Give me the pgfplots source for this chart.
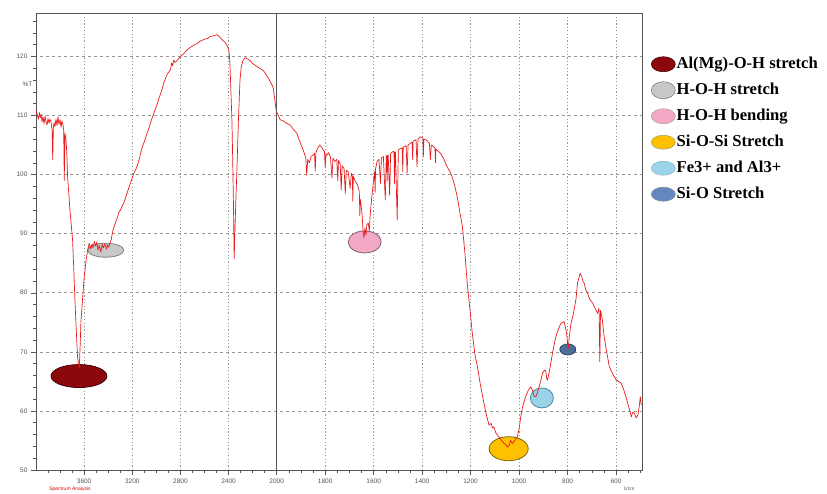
\documentclass[border=0pt]{standalone}
\usepackage{pgfplots}
\pgfplotsset{compat=1.18}
\usepackage{fontspec}
\setmainfont{Liberation Serif}
\newfontfamily\tickfont{Liberation Sans}
\definecolor{curve}{RGB}{232,28,28}
\definecolor{frame}{RGB}{85,85,85}
\definecolor{gridc}{RGB}{150,150,150}
\definecolor{almg}{RGB}{140,8,12}
\definecolor{almgE}{RGB}{70,0,0}
\definecolor{grayF}{RGB}{200,200,200}
\definecolor{grayE}{RGB}{125,125,125}
\definecolor{pinkF}{RGB}{243,168,198}
\definecolor{pinkE}{RGB}{130,95,110}
\definecolor{yelF}{RGB}{255,192,0}
\definecolor{yelE}{RGB}{120,105,10}
\definecolor{lbF}{RGB}{155,212,232}
\definecolor{lbE}{RGB}{70,135,165}
\definecolor{sbF}{RGB}{100,135,190}
\definecolor{sbE}{RGB}{45,70,105}

\pgfplotstableread{
wn T
4000 110.9
3990 110.2
3980 109.4
3972 110.5
3965 109.6
3958 110.2
3950 108.9
3942 109.8
3933 108.6
3925 109.9
3917 109.0
3908 108.4
3900 109.5
3892 108.7
3884 109.4
3875 108.9
3866 107.5
3861 102.5
3856 107.8
3850 108.8
3842 108.1
3834 109.4
3825 108.3
3817 109.8
3809 108.5
3800 109.3
3792 108.0
3784 109.1
3776 108.4
3770 107.6
3765 99.0
3760 107.0
3752 106.2
3745 104.0
3737 99.5
3728 97.0
3718 94.0
3707 91.5
3696 88.9
3686 84.0
3677 79.0
3665 73.5
3655 69.2
3648 68.0
3641 67.3
3634 70.5
3627 74.9
3613 79.0
3599 82.7
3585 85.3
3571 87.2
3558 88.4
3545 87.4
3535 88.3
3527 87.6
3515 88.7
3505 87.9
3494 88.6
3485 87.2
3475 88.0
3461 86.9
3450 88.2
3440 87.6
3428 88.3
3415 87.4
3405 88.1
3395 87.7
3385 88.5
3375 89.0
3365 90.2
3351 91.2
3335 92.1
3320 93.0
3312 93.6
3298 94.0
3285 94.6
3269 95.3
3250 96.4
3230 97.7
3208 99.0
3186 100.3
3170 100.9
3158 101.5
3140 102.8
3122 104.3
3100 105.6
3075 107.1
3058 108.1
3040 109.3
3015 110.7
2992 112.0
2975 113.1
2957 114.1
2935 115.7
2910 117.0
2895 117.4
2882 117.8
2874 118.9
2865 118.4
2855 119.4
2845 119.0
2833 119.2
2815 119.6
2800 120.0
2775 120.4
2750 121.0
2720 121.5
2690 121.9
2660 122.2
2634 122.6
2600 122.9
2570 123.1
2552 123.4
2520 123.5
2496 123.7
2475 123.3
2452 122.8
2430 122.4
2414 121.9
2400 121.2
2394 120.5
2388 118.5
2382 115.0
2372 109.2
2365 102.0
2359 94.6
2355 88.0
2353 85.8
2350 88.5
2345 92.0
2338 96.5
2331 100.5
2318 109.2
2305 116.0
2295 118.2
2280 119.3
2262 119.8
2245 119.6
2221 119.3
2200 118.8
2171 118.4
2140 118.0
2111 117.6
2090 117.0
2072 116.4
2050 115.6
2035 115.0
2028 114.6
2015 112.5
2005 111.0
2000 110.6
}\leftdata

\pgfplotstableread{
wn T
2000 110.6
1993 110.0
1986 109.3
1973 109.1
1960 108.7
1945 108.4
1930 107.6
1917 107.0
1905 105.6
1890 104.1
1880 102.8
1876 99.9
1872 102.6
1865 102.0
1858 103.1
1849 103.3
1844 103.6
1841 100.6
1838 103.8
1830 104.5
1822 105.0
1814 104.6
1806 104.0
1803 104.0
1800 101.2
1797 103.5
1795 103.2
1786 103.7
1778 102.9
1772 99.4
1768 102.8
1760 102.2
1752 102.6
1748 99.0
1745 102.4
1738 101.8
1734 97.4
1730 101.5
1722 101.0
1717 96.8
1713 100.7
1705 100.5
1697 97.7
1692 100.2
1688 99.9
1686 95.5
1684 99.7
1683 99.6
1675 98.8
1668 98.4
1662 97.6
1659 97.0
1657 93.0
1655 95.8
1648 93.5
1644 90.6
1640 89.3
1636 91.0
1632 89.8
1628 91.5
1622 91.8
1618 90.4
1614 93.4
1607 96.5
1600 99.1
1596 100.5
1594 97.0
1592 101.0
1586 102.2
1578 102.6
1572 98.5
1568 102.8
1560 103.1
1552 95.7
1548 103.2
1546 103.2
1544 99.0
1542 103.3
1540 103.3
1534 96.5
1530 103.6
1520 103.9
1516 103.9
1514 98.5
1512 103.8
1510 103.8
1503 92.3
1498 104.2
1490 104.4
1482 104.5
1480 100.5
1478 104.6
1476 104.7
1466 104.9
1462 100.2
1458 105.0
1448 105.3
1441 105.5
1439 102.5
1437 105.7
1435 105.7
1425 105.9
1421 101.3
1417 106.0
1407 106.4
1397 106.2
1395 103.0
1393 106.0
1385 105.9
1379 105.7
1370 105.3
1366 102.5
1362 105.0
1352 104.7
1347 104.5
1345 102.0
1343 104.3
1340 104.2
1324 103.6
1310 102.6
1297 101.3
1285 100.5
1276 99.6
1265 98.0
1255 96.2
1245 93.8
1234 91.2
1224 87.0
1214 81.6
1203 77.3
1193 73.1
1182 69.5
1172 67.5
1160 64.5
1145 61.3
1135 59.3
1124 57.6
1115 57.9
1110 57.1
1104 57.3
1095 56.2
1083 55.6
1072 55.0
1062 54.5
1055 54.3
1048 53.9
1040 54.2
1035 55.0
1028 54.5
1018 55.0
1007 55.6
1000 57.0
993 59.0
985 60.8
973 62.4
962 63.5
952 64.1
945 63.5
938 62.5
931 62.4
925 63.0
917 64.1
910 65.2
903 66.4
895 66.9
890 66.8
886 65.5
883 65.2
876 66.5
869 68.1
860 70.3
848 72.6
838 73.8
828 74.8
820 75.0
814 75.1
808 74.0
803 72.8
800 71.5
797 70.6
793 72.5
786 74.8
778 76.1
773 77.1
765 79.0
759 81.6
752 82.7
748 83.3
742 82.8
737 82.0
731 81.6
725 80.5
717 79.9
710 79.0
703 78.6
696 78.2
688 77.5
682 77.0
676 76.5
670 77.4
667 68.3
664 77.0
658 75.9
649 72.6
640 70.3
635 69.2
628 67.5
620 66.8
613 66.2
607 65.8
600 65.3
590 65.0
579 64.7
570 63.8
559 62.4
550 61.0
543 60.0
537 59.0
531 59.8
524 59.6
517 58.8
510 59.3
505 60.5
500 62.4
496 61.0
}\rightdata

\pgfplotsset{
  ftir/.style={
    scale only axis, height=456.7pt,
    ymin=50, ymax=127.3, x dir=reverse,
    axis line style={frame, line width=0.8pt},
    tick style={frame, line width=0.5pt},
    tick align=outside, major tick length=5pt, minor tick length=2.5pt,
    xtick pos=bottom, ytick pos=left,
    xmajorgrids, ymajorgrids,
    x grid style={gridc, line width=0.6pt, dash pattern=on 1.2pt off 2.2pt},
    y grid style={gridc, line width=0.6pt, dash pattern=on 3pt off 3pt},
    ticklabel style={font=\tickfont\fontsize{6.5}{7}\selectfont, text=frame},
    /pgf/number format/assume math mode=true,
    /pgf/number format/1000 sep={},
    ytick={50,60,...,120},
    minor ytick={50,52,...,126},
    clip=false, clip marker paths=true,
  },
  curvestyle/.style={curve, line width=0.7pt, line join=round},
}

\begin{document}
\begin{tikzpicture}
\path[use as bounding box] (0pt,0pt) rectangle (827pt,493pt);

\begin{axis}[ftir, at={(36pt,23pt)}, anchor=south west, width=240.7pt,
  xmin=2000, xmax=4000,
  xtick={3600,3200,2800,2400,2000},
  minor xtick={2100,2200,...,3900},
  extra y ticks={115.3}, extra y tick labels={\%T},
  extra y tick style={major tick length=0pt, grid=none},
]
\addplot[forget plot, only marks, mark=*, mark size=11.5pt,
  mark options={xscale=2.43, fill=almg, draw=almgE, line width=0.8pt}]
  coordinates {(3643,65.9)};
\addplot[forget plot, only marks, mark=*, mark size=7pt,
  mark options={xscale=2.57, fill=grayF, draw=grayE, line width=0.8pt}]
  coordinates {(3420,87.2)};
\addplot[curvestyle] table[x=wn, y=T] {\leftdata};
\end{axis}

\begin{axis}[ftir, at={(276.7pt,23pt)}, anchor=south west, width=366pt,
  xmin=490, xmax=2000,
  xtick={1800,1600,1400,1200,1000,800,600},
  minor xtick={500,550,...,1950},
  yticklabels={}, y tick style={draw=none},
  legend style={at={(1.014,0.913)}, anchor=north west, draw=none, fill=none,
    font=\bfseries\fontsize{16.6}{19}\selectfont, row sep=8pt,
    nodes={inner sep=1pt, text height=12pt, text depth=4pt}},
  legend cell align=left,
]
\addplot[forget plot, only marks, mark=*, mark size=11pt,
  mark options={xscale=1.5, fill=pinkF, draw=pinkE, line width=0.8pt}]
  coordinates {(1637,88.6)};
\addplot[forget plot, only marks, mark=*, mark size=12pt,
  mark options={xscale=1.63, fill=yelF, draw=yelE, line width=0.8pt}]
  coordinates {(1043,53.6)};
\addplot[forget plot, only marks, mark=*, mark size=10pt,
  mark options={xscale=1.15, fill=lbF, draw=lbE, line width=0.8pt}]
  coordinates {(906,62.2)};
\addplot[forget plot, only marks, mark=*, mark size=5.5pt,
  mark options={xscale=1.45, fill=sbF!80!black, draw=sbE, line width=0.8pt}]
  coordinates {(799,70.4)};
\addplot[curvestyle, forget plot] table[x=wn, y=T] {\rightdata};

\addlegendimage{legend image code/.code={\filldraw[fill=almg, draw=almgE, line width=0.6pt] (12pt,0pt) ellipse [x radius=12pt, y radius=7.5pt];}}
\addlegendentry{Al(Mg)-O-H stretch}
\addlegendimage{legend image code/.code={\filldraw[fill=grayF, draw=grayE, line width=0.6pt] (12pt,0pt) ellipse [x radius=12pt, y radius=8.5pt];}}
\addlegendentry{H-O-H stretch}
\addlegendimage{legend image code/.code={\filldraw[fill=pinkF, draw=pinkE!60, line width=0.6pt] (12pt,0pt) ellipse [x radius=12pt, y radius=7.5pt];}}
\addlegendentry{H-O-H bending}
\addlegendimage{legend image code/.code={\filldraw[fill=yelF, draw=yelE!60, line width=0.6pt] (12pt,0pt) ellipse [x radius=12pt, y radius=7pt];}}
\addlegendentry{Si-O-Si Stretch}
\addlegendimage{legend image code/.code={\filldraw[fill=lbF, draw=lbE!60, line width=0.6pt] (12pt,0pt) ellipse [x radius=12pt, y radius=7pt];}}
\addlegendentry{Fe3+ and Al3+}
\addlegendimage{legend image code/.code={\filldraw[fill=sbF, draw=sbE!60, line width=0.6pt] (12pt,0pt) ellipse [x radius=12pt, y radius=7pt];}}
\addlegendentry{Si-O Stretch}
\end{axis}

\node[font=\tickfont\fontsize{5}{6}\selectfont, text=red!85!black] at (70pt,4pt) {Spectrum Analysis};
\node[font=\tickfont\fontsize{5}{6}\selectfont, text=frame] at (629pt,4pt) {1/cm};
\end{tikzpicture}
\end{document}
